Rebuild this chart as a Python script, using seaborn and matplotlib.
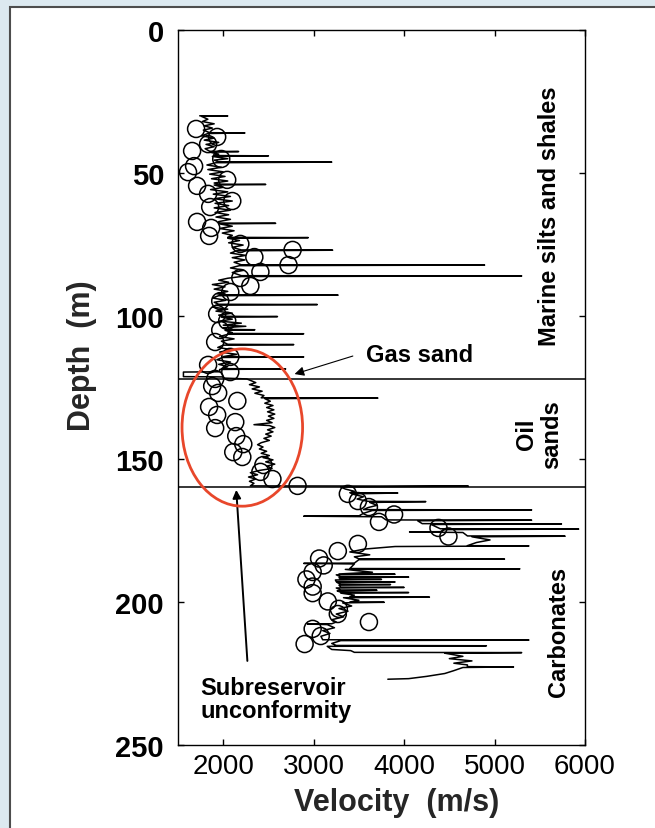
import numpy as np
import pandas as pd
import matplotlib
matplotlib.use("Agg")
import matplotlib.pyplot as plt
from matplotlib.patches import Ellipse, Rectangle
import seaborn as sns

# ---------------- data ----------------
# sonic log, marine silts and shales interval
shale_depth = [30.0, 30.05, 30.2, 31.2, 32.0, 32.8, 33.5, 34.3, 35.0, 35.9, 36.0, 36.2, 37.0, 37.8,
               38.5, 39.3, 40.0, 40.8, 41.5, 42.4, 42.5, 42.7, 43.4, 43.9, 44.0, 44.2, 45.0, 45.5,
               46.1, 46.2, 46.4, 47.2, 48.0, 48.8, 49.6, 50.4, 51.2, 52.0, 52.8, 53.5, 53.9, 54.0,
               54.2, 55.0, 55.8, 56.6, 57.4, 58.2, 59.0, 59.8, 60.6, 61.4, 62.2, 63.0, 63.8, 64.6,
               65.4, 66.2, 67.0, 67.5, 67.6, 67.8, 68.6, 69.4, 70.2, 71.0, 71.8, 72.5, 72.6, 72.8,
               73.6, 74.4, 75.2, 76.0, 76.9, 77.0, 77.2, 78.0, 78.8, 79.6, 80.4, 81.2, 82.1, 82.2,
               82.4, 83.2, 84.0, 84.8, 85.9, 86.0, 86.2, 86.8, 87.5, 88.2, 89.0, 89.8, 90.6, 91.4,
               92.2, 92.6, 92.7, 92.9, 93.7, 94.5, 95.2, 95.9, 96.0, 96.2, 96.9, 97.6, 98.3, 99.0,
               99.7, 100.1, 100.2, 100.4, 101.1, 101.8, 102.5, 103.2, 103.6, 104.1, 104.7, 104.8,
               105.0, 105.8, 106.1, 106.2, 106.4, 107.2, 108.0, 108.8, 109.9, 110.0, 110.2, 111.0,
               111.8, 112.6, 113.4, 114.2, 114.3, 114.5, 115.3, 116.1, 116.9, 117.7, 118.4, 118.5,
               118.7, 119.5, 119.6, 121.2, 121.3, 121.7, 122.0]
shale_vel = [1740, 2050, 1760, 1830, 1770, 1900, 1790, 1880, 1780, 1850, 2240, 1830, 1760, 1900,
             1790, 1950, 1810, 1900, 1800, 1850, 2170, 1850, 1950, 1900, 2500, 1880, 2050, 1900,
             1950, 3200, 1920, 1820, 1980, 1830, 2000, 1850, 2020, 1870, 2050, 1900, 1950, 2470,
             1900, 2000, 1860, 2050, 1890, 2080, 1900, 2100, 1910, 2060, 1900, 2080, 1910, 2060,
             1920, 2080, 1950, 1950, 2580, 1960, 2100, 1960, 2120, 1990, 2100, 2050, 2940, 2050,
             2180, 2060, 2220, 2100, 2200, 3210, 2150, 2080, 2250, 2100, 2240, 2120, 2200, 4890,
             2180, 2080, 2230, 2100, 2200, 5300, 2200, 2050, 1950, 2060, 1880, 2020, 1900, 2050,
             1930, 2000, 3270, 1950, 1880, 2030, 1900, 1950, 3040, 1920, 1880, 2050, 1920, 2100,
             1950, 2000, 2600, 1980, 2100, 1960, 2200, 2000, 2250, 2000, 2050, 2350,
             2020, 2100, 2050, 2890, 2050, 1960, 2120, 1980, 2050, 2780, 2000, 1940,
             2100, 1960, 2150, 2000, 2890, 1990, 1930, 2080, 1950, 2050, 1980, 2690,
             1960, 1960, 1560, 1560, 2000, 2000, 2260]

# sonic log, oil sands interval
oil_depth = [122.5, 123.3, 124.0, 124.8, 125.5, 126.3, 127.0, 127.8, 128.6, 128.7, 128.9, 129.8,
             130.5, 131.3, 132.0, 132.8, 133.5, 134.3, 135.0, 135.8, 136.5, 137.3, 138.0, 138.3,
             139.0, 139.8, 140.5, 141.3, 142.0, 142.8, 143.5, 144.3, 145.0, 145.8, 146.5, 147.3,
             148.0, 148.8, 149.5, 150.3, 151.0, 151.8, 152.5, 153.3, 154.0, 154.8, 155.5, 156.3,
             157.0, 157.8, 158.5, 159.4, 159.5, 159.8]
oil_vel = [2300, 2360, 2290, 2400, 2320, 2430, 2350, 2450, 2420, 3710, 2460, 2520,
           2460, 2550, 2480, 2560, 2490, 2570, 2500, 2560, 2480, 2540, 2340, 2510,
           2570, 2490, 2550, 2470, 2530, 2450, 2510, 2420, 2380, 2440, 2400, 2480,
           2420, 2510, 2440, 2550, 2470, 2570, 2480, 2540, 2400, 2300, 2380, 2280,
           2360, 2290, 2340, 2300, 4710, 3300]

# sonic log, carbonates interval
carb_depth = [160.5, 161.3, 161.8, 161.9, 162.2, 163.2, 164.0, 164.8, 164.9, 165.2, 166.2, 167.0,
              167.7, 167.8, 168.0, 169.0, 169.9, 170.0, 170.2, 171.3, 171.4, 171.6, 172.6, 172.7,
              172.9, 174.4, 174.5, 174.7, 175.4, 175.5, 175.7, 176.9, 177.0, 177.2, 178.3, 179.2,
              180.3, 180.4, 180.6, 181.5, 182.5, 183.5, 184.2, 184.9, 185.0, 185.2, 186.4, 186.5,
              186.7, 188.3, 188.4, 188.6, 189.6, 190.2, 190.3, 190.5, 191.2, 191.3, 191.5, 192.0,
              192.1, 192.3, 192.9, 193.0, 193.2, 193.8, 193.9, 194.1, 194.8, 194.9, 195.1, 195.8,
              195.9, 196.1, 196.6, 196.7, 196.9, 197.6, 198.2, 198.3, 198.5, 199.4, 200.0, 200.1,
              200.3, 201.4, 202.3, 203.2, 204.2, 205.2, 206.2, 207.0, 207.6, 207.7, 207.9, 209.0,
              210.0, 211.0, 212.0, 213.2, 213.3, 213.5, 214.5, 215.2, 215.3, 215.5, 216.6, 217.0,
              217.6, 217.7, 217.9, 219.0, 219.8, 220.6, 221.4, 222.0, 222.6, 222.7, 222.9, 224.0,
              225.0, 226.0, 226.8, 227.0]
carb_vel = [3350, 3450, 3400, 3930, 3420, 3550, 3480, 3600, 4240, 3620, 3700, 3600,
            3550, 5410, 3650, 3550, 3500, 2890, 3750, 3800, 5410, 4150, 4200, 5740,
            4300, 4400, 5930, 4450, 4400, 4060, 4650, 4700, 5780, 4750, 4950, 4800,
            4700, 5380, 3900, 3560, 3400, 3620, 3450, 3500, 5110, 3500, 3450, 2890,
            3450, 3400, 5280, 3350, 3650, 3280, 3900, 3250, 3300, 4050, 3280, 3300,
            3750, 3240, 3250, 3900, 3260, 3300, 3850, 3280, 3300, 4000, 3250, 3300,
            3700, 3260, 3300, 4050, 3300, 3450, 3400, 4280, 3330, 3500, 3400, 3780,
            3320, 3420, 3280, 3380, 3250, 3330, 3200, 3250, 3200, 2930, 3150, 3230,
            3100, 3180, 3080, 3100, 5380, 3300, 3200, 3250, 4910, 3150, 3200, 3410,
            3450, 5300, 4450, 4650, 4500, 4750, 4550, 4700, 4700, 5210, 4650, 4550,
            4450, 4250, 4050, 3820]

# check-shot velocities (open circles)
shot_depth = [34.6, 37.4, 39.9, 42.3, 45.1, 47.6, 49.7, 52.4, 54.5, 57.3, 59.8, 61.9, 67.1, 69.2,
              72.0, 74.8, 76.9, 79.4, 82.2, 84.6, 86.7, 89.5, 91.6, 94.8, 99.3, 101.7, 104.9,
              109.1, 114.3, 117.1, 119.6, 122.0, 124.5, 126.9, 129.7, 131.8, 134.6, 137.1, 139.2,
              142.0, 144.8, 147.6, 149.3, 152.1, 154.5, 157.0, 159.4, 162.2, 164.7, 166.8, 169.4,
              172.0, 174.1, 177.1, 179.7, 182.2, 184.8, 187.2, 189.5, 192.1, 194.6, 196.9, 199.8,
              202.4, 204.2, 207.0, 209.4, 211.9, 214.7]
shot_vel = [1700, 1933, 1833, 1656, 1978, 1678, 1611, 2044, 1711, 1833, 2100, 1856, 1711, 1867,
            1844, 2189, 2767, 2344, 2722, 2411, 2189, 2300, 2078, 1967, 1933, 2044, 1967,
            1911, 2078, 1833, 2078, 1911, 1878, 1944, 2156, 1844, 1933, 2133, 1911,
            2144, 2222, 2111, 2211, 2444, 2411, 2544, 2822, 3378, 3489, 3611, 3889,
            3722, 4380, 4490, 3489, 3267, 3060, 3111, 2989, 2920, 2989, 2989, 3156,
            3278, 3267, 3611, 2989, 3078, 2900]

boundary_depths = [122.2, 159.7]          # gas sand top / subreservoir unconformity
x_ticks = [2000, 3000, 4000, 5000, 6000]
y_ticks = [0, 50, 100, 150, 200, 250]

# ---------------- figure ----------------
sns.set_style("ticks")
plt.rcParams['font.family'] = ['Liberation Sans', 'DejaVu Sans']

fig = plt.figure(figsize=(6.55, 8.29), dpi=100, facecolor='#dce9f0')
panel = Rectangle((10 / 655, -0.05), 1.2, 1 - 8 / 829 + 0.05, transform=fig.transFigure,
                  facecolor='white', edgecolor='#4d4d4d', linewidth=1.5, zorder=-10)
fig.patches.append(panel)

ax = fig.add_axes([178 / 655, 1 - 746 / 829, 407 / 655, 715 / 829])
ax.set_zorder(1)
ax.set_facecolor('white')

log = pd.DataFrame({
    'Depth': shale_depth + oil_depth + carb_depth,
    'Velocity': shale_vel + oil_vel + carb_vel,
})
shots = pd.DataFrame({'Depth': shot_depth, 'Velocity': shot_vel})

sns.lineplot(data=log, x='Velocity', y='Depth', sort=False, estimator=None,
             color='black', linewidth=1.1, ax=ax, zorder=2)
sns.scatterplot(data=shots, x='Velocity', y='Depth', ax=ax, s=150, marker='o',
                fc='none', ec='black', linewidth=1.1, zorder=3, legend=False)

for d in boundary_depths:
    ax.axhline(d, color='black', linewidth=1.1, zorder=2)

ax.add_patch(Ellipse((2211, 139), width=1333, height=55, fill=False,
                     edgecolor='#e8472b', linewidth=2.0, zorder=4))

ax.set_xlim(1500, 6000)
ax.set_ylim(250, 0)
ax.set_xticks(x_ticks)
ax.set_yticks(y_ticks)
ax.tick_params(direction='in', length=4.5, width=1, top=True, right=True, colors='black')
ax.tick_params(axis='x', labelsize=20, pad=6)
ax.tick_params(axis='y', labelsize=21, pad=10)
for lab in ax.get_yticklabels():
    lab.set_fontweight('bold')
for s in ax.spines.values():
    s.set_linewidth(1.0)
    s.set_color('black')

ax.set_xlabel('Velocity  (m/s)', fontsize=22, fontweight='bold', va='center')
ax.xaxis.set_label_coords(0.538, -0.0797)
ax.set_ylabel('Depth  (m)', fontsize=22, fontweight='bold', va='center')
ax.yaxis.set_label_coords(-0.236, 0.5455)

tkw = dict(fontsize=17, fontweight='bold', color='black')
ax.text(5611, 64.9, 'Marine silts and shales', rotation=90, ha='center', va='center', **tkw)
ax.text(5490, 141, 'Oil\nsands', rotation=90, ha='center', va='center',
        multialignment='center', linespacing=1.1, **tkw)
ax.text(5711, 210, 'Carbonates', rotation=90, ha='center', va='center', **tkw)
ax.text(4167, 113.3, 'Gas sand', ha='center', va='center', **tkw)
ax.text(1744, 234, 'Subreservoir\nunconformity', ha='left', va='center',
        linespacing=1.0, **tkw)

ax.annotate('', xy=(2789, 120.3), xytext=(3433, 114),
            arrowprops=dict(arrowstyle='-|>', color='black', lw=0.8, mutation_scale=14,
                            shrinkA=0, shrinkB=0))
ax.annotate('', xy=(2144, 160.8), xytext=(2267, 220.6),
            arrowprops=dict(arrowstyle='-|>', color='black', lw=1.4, mutation_scale=12,
                            shrinkA=0, shrinkB=0))

fig.savefig('out.png', dpi=100, facecolor=fig.get_facecolor())
